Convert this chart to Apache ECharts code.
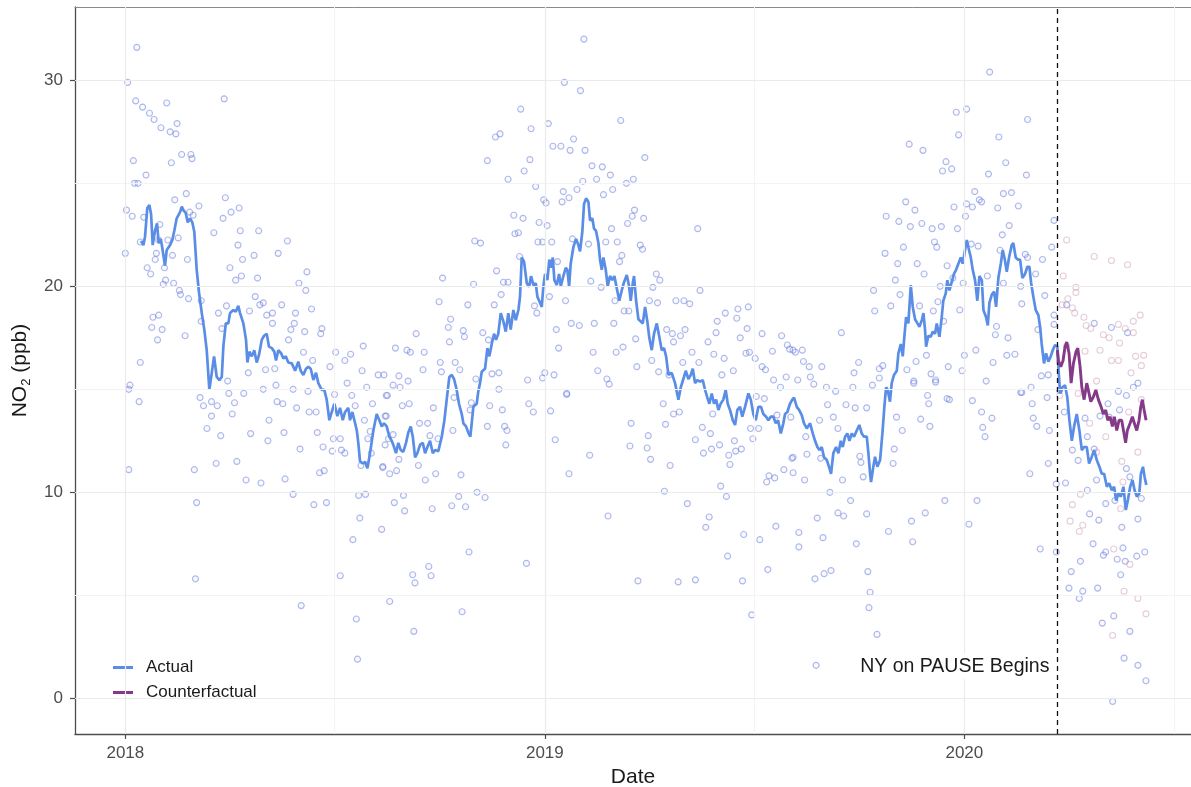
<!DOCTYPE html>
<html><head><meta charset="utf-8">
<script src="https://cdn.jsdelivr.net/npm/echarts@6/dist/echarts.min.js"></script>
<style>html,body{margin:0;padding:0;background:#fff}#c{width:1191px;height:787px}</style>
</head><body><div id="c"></div>
<script>
// ---------- DATA ----------
const BASE_DATE = '2018-01-01';           // day 0 of all day offsets below
const yearTicks = ['2018-01-01', '2019-01-01', '2020-01-01'];
const minorXDates = ['2018-07-02', '2019-07-02', '2020-07-02'];
const yTicks = [0, 10, 20, 30];
const minorYValues = [5, 15, 25];
const pauseDate = '2020-03-22';
const pauseLabel = 'NY on PAUSE Begins';
const seriesNames = ['Actual', 'Counterfactual'];

// Actual rolling mean (days since 2018-01-01, ppb)
const actualDay = [13.7,15.7,17.1,19.1,20.9,22.4,23.8,25.8,27.6,29.0,30.8,32.2,34.5,36.0,38.9,40.9,42.6,44.7,47.6,49.1,50.5,52.6,54.3,56.3,58.3,60.0,62.1,64.1,66.5,68.7,70.8,73.1,75.2,77.2,79.5,81.8,83.9,85.3,87.4,89.6,91.1,94.0,96.1,98.3,99.8,101.3,102.7,105.0,106.2,107.9,110.0,112.2,114.3,116.3,118.7,120.7,123.0,125.0,127.4,129.6,131.1,133.1,135.5,137.5,139.6,141.8,144.8,147.7,150.5,152.6,154.9,157.2,159.2,161.3,163.6,165.9,167.9,170.9,173.1,175.2,177.5,179.6,181.9,184.5,186.8,189.2,191.2,194.0,195.5,197.5,199.9,201.4,202.7,204.2,206.6,208.6,210.6,212.9,215.8,218.7,221.0,223.1,225.1,227.4,229.7,231.8,233.8,235.5,237.5,239.6,241.9,244.2,246.2,248.3,250.1,252.1,254.1,256.4,258.8,260.8,262.8,265.1,267.5,269.5,272.3,275.3,277.6,279.6,281.9,284.0,286.0,288.3,290.3,292.7,294.1,296.4,298.4,300.2,302.8,305.7,307.1,308.6,310.1,313.0,315.0,316.7,318.8,320.8,322.5,324.5,326.6,328.9,331.0,333.2,335.3,337.6,339.7,342.0,343.4,344.9,346.9,349.3,351.3,353.0,355.0,357.1,358.5,360.8,362.3,363.7,365.2,367.2,368.9,370.4,371.9,373.3,375.4,377.4,378.9,381.1,383.2,384.6,386.1,387.5,389.8,392.2,394.2,395.6,397.6,399.1,400.9,402.9,404.3,406.3,407.8,409.5,411.6,413.0,414.5,415.9,418.0,419.7,421.7,423.7,425.5,427.6,429.8,431.9,433.9,436.3,438.3,439.7,441.5,442.6,444.4,446.4,448.3,450.2,452.2,454.2,455.9,458.0,460.0,462.4,464.4,466.7,468.7,470.5,472.5,475.4,478.3,481.2,483.3,485.5,487.6,489.9,492.0,493.7,495.7,497.7,500.0,502.4,504.4,506.4,508.1,510.2,512.2,514.0,516.0,518.0,520.3,522.4,524.1,526.1,528.5,530.5,532.5,534.8,536.8,539.2,542.1,544.2,546.4,548.5,550.8,553.1,555.1,557.5,559.5,561.6,563.8,565.9,567.9,570.3,572.5,574.0,576.0,578.3,580.3,581.8,584.2,586.2,588.5,590.5,592.9,595.8,598.1,600.1,602.1,603.9,605.9,607.9,610.3,612.6,614.0,616.0,618.4,620.4,622.5,624.2,626.2,628.2,630.0,632.0,634.0,636.4,638.6,640.7,642.7,645.1,646.5,648.0,648.8,650.8,652.3,654.3,656.7,658.7,660.4,661.9,663.3,665.3,666.8,668.8,671.2,672.6,674.7,676.4,677.8,679.3,681.3,683.4,685.1,687.1,689.2,690.9,693.0,694.4,695.8,696.7,698.7,700.8,702.5,704.5,706.0,708.3,710.3,711.7,713.8,715.2,717.0,719.0,721.0,722.8,724.8,726.9,728.6,730.6,732.1,733.5,735.6,737.3,739.3,741.3,743.1,745.2,746.6,748.9,750.4,751.8,753.9,755.9,757.6,759.6,761.7,763.4,765.2,766.9,768.9,771.2,772.6,774.7,776.5,778.5,780.5,782.8,784.8,786.6,788.0,790.0,792.1,794.4,795.9,797.3,799.3,801.1,803.1,805.2,806.9,808.9,810.9,811.8,813.3,815.3,817.6,819.6,821.4,823.5,825.5,827.8,830.1,832.2,834.2,836.5,838.5,840.9,842.9,845.2,847.5,849.6,851.6,854.0,856.0,858.3,860.3,862.1,864.1,866.2,868.4,870.5,872.3,874.3,876.3,878.1,880.1,882.2,883.6,885.4,886.8,888.3];
const actualNO2 = [22.2,22.0,22.4,23.8,23.95,23.5,22.0,22.7,23.05,22.1,22.3,21.85,21.0,21.76,22.0,22.25,22.7,23.3,23.6,23.87,23.7,23.55,23.1,23.3,23.1,22.65,20.8,19.7,18.7,17.9,16.9,14.97,15.8,16.6,15.6,15.45,15.6,17.1,18.2,18.2,18.7,18.85,18.77,19.05,18.7,18.77,18.2,17.4,16.3,16.83,16.6,16.9,16.3,16.67,17.4,17.6,17.7,17.07,17.0,16.83,16.4,16.9,16.75,16.5,16.6,16.3,16.26,15.9,16.34,15.9,15.7,16.0,16.1,16.0,15.45,15.8,15.3,14.97,14.97,14.5,13.5,13.9,14.3,13.7,14.1,13.5,13.9,14.1,13.5,13.9,13.35,13.0,12.4,11.5,11.4,11.48,11.17,11.9,13.0,13.8,13.5,13.2,13.35,13.2,12.7,12.5,12.2,11.9,12.4,12.05,11.97,12.4,12.9,13.2,12.7,11.7,11.9,12.3,12.4,11.9,12.2,12.5,11.9,12.05,12.0,12.7,13.5,14.5,15.6,15.7,15.5,14.97,14.3,13.8,13.35,13.2,12.9,12.7,14.15,14.3,14.9,15.3,15.85,16.0,17.0,16.6,17.2,17.7,17.4,17.7,18.7,18.3,17.8,18.7,17.9,18.85,18.36,18.85,19.5,21.4,21.2,20.15,19.98,20.5,20.06,20.15,19.5,19.2,19.0,20.0,20.6,20.3,21.3,20.9,21.4,20.3,20.06,20.6,20.0,20.5,20.9,20.8,20.0,21.1,21.9,22.3,22.0,21.7,22.65,24.0,24.27,24.1,23.2,23.3,22.8,22.7,22.1,21.3,20.8,21.4,20.8,20.0,20.5,20.3,20.5,19.9,19.3,19.8,20.2,20.55,20.0,19.3,20.15,20.5,19.3,18.4,18.3,18.2,19.0,18.28,17.5,16.9,17.7,18.2,17.6,16.9,17.0,16.6,15.7,15.8,15.3,14.5,15.1,15.5,15.9,15.5,15.7,16.0,15.3,15.45,15.37,15.45,14.97,14.6,14.3,14.8,14.3,14.5,14.0,14.3,14.5,14.97,14.3,14.0,13.5,13.27,14.0,14.15,13.67,14.15,14.8,14.5,13.8,13.5,14.15,14.15,13.8,13.67,13.5,13.67,13.67,13.35,13.5,12.86,13.35,13.8,13.9,14.3,14.5,14.6,14.15,14.0,13.75,13.35,13.1,13.35,12.86,12.5,12.2,12.05,12.2,11.7,11.57,11.17,10.9,11.9,12.2,11.9,12.5,12.2,12.7,12.86,12.5,12.86,12.7,13.0,13.27,12.86,12.7,12.7,11.9,10.9,10.5,11.24,11.73,11.24,11.57,12.86,14.15,15.1,14.97,14.4,15.3,15.7,15.9,16.75,17.2,16.6,17.55,18.5,18.2,20.06,19.0,18.4,18.2,18.04,18.36,18.7,17.88,17.07,17.6,17.55,17.8,17.7,18.2,17.55,18.5,19.3,19.66,20.3,19.8,20.2,20.6,20.8,21.1,21.4,21.1,21.76,22.25,21.9,21.4,20.8,20.3,19.3,20.5,20.3,18.85,18.5,18.1,19.2,19.6,19.74,19.0,20.4,21.1,21.76,21.3,20.7,21.4,22.0,22.1,21.4,21.3,21.3,20.4,20.6,20.95,20.95,20.2,19.5,18.85,18.6,18.04,17.2,16.26,16.75,16.34,16.6,16.9,17.15,17.07,16.1,14.8,15.1,15.2,14.6,13.5,12.5,13.2,13.8,13.0,12.05,12.2,12.2,11.4,11.73,12.05,11.57,11.24,10.9,10.9,10.27,10.44,10.1,10.27,9.6,9.95,9.79,10.27,9.14,9.63,10.27,10.6,10.1,9.79,9.95,10.9,11.24,10.76,10.35];

// Counterfactual rolling mean
const cfDay = [811.0,811.8,813.9,815.9,817.6,819.1,821.1,822.9,824.9,827.2,828.7,830.7,832.2,834.2,836.5,838.5,840.0,842.3,844.4,846.6,849.0,851.0,853.0,854.8,856.8,858.8,860.5,862.6,864.6,866.9,868.9,870.3,871.8,874.2,876.2,877.9,880.0,882.0,883.5,884.9,886.4,888.1];
const cfNO2 = [16.9,16.4,16.1,16.4,17.07,17.3,16.75,15.3,16.26,16.83,17.0,16.1,15.1,14.5,15.3,14.8,14.4,14.64,14.97,14.5,14.15,13.8,14.0,13.5,13.67,13.2,13.67,13.0,13.5,13.5,12.86,12.4,13.0,13.35,13.67,13.35,13.0,13.5,14.15,14.5,14.0,13.5];

// Daily observations [day, ppb]
const obsPoints = [[10,31.6],[2,29.9],[9,29.0],[15,28.7],[36,28.9],[21,28.4],[25,28.1],[31,27.7],[39,27.5],[44,27.4],[45,27.9],[7,26.1],[40,26.0],[49,26.4],[57,26.4],[58,26.2],[86,29.1],[8,25.0],[11,25.0],[18,25.4],[43,24.2],[53,24.5],[64,23.9],[87,24.3],[1,23.7],[6,23.4],[16,23.35],[30,23.0],[56,23.6],[59,23.45],[92,23.6],[99,23.8],[85,23.3],[77,22.6],[100,22.7],[116,22.7],[141,22.2],[0,21.6],[13,22.15],[29,22.25],[37,22.25],[46,22.35],[27,21.6],[41,21.5],[54,21.3],[98,22.0],[102,21.3],[112,21.5],[133,21.6],[19,20.9],[22,20.6],[26,21.3],[34,20.9],[35,20.3],[33,20.1],[42,20.15],[47,19.8],[48,19.6],[55,19.4],[91,20.9],[96,20.3],[101,20.5],[115,20.4],[151,20.15],[158,20.7],[157,19.8],[113,19.5],[120,19.2],[117,19.1],[136,19.1],[148,18.7],[162,18.9],[88,19.05],[108,18.8],[81,18.7],[66,19.3],[66,18.3],[24,18.5],[29,18.6],[23,18.0],[32,17.9],[28,17.4],[52,17.6],[84,17.95],[128,18.7],[123,18.6],[128,18.2],[147,18.2],[144,17.9],[156,17.8],[171,17.95],[170,17.7],[142,17.4],[155,16.8],[183,16.8],[196,16.7],[207,17.1],[235,17.0],[191,16.4],[178,16.1],[206,15.9],[163,16.4],[122,15.95],[130,16.0],[107,15.8],[89,15.4],[13,16.3],[4,15.2],[3,15.0],[220,15.7],[210,15.1],
[12,14.4],[65,14.6],[68,14.2],[75,14.4],[80,14.2],[75,13.7],[71,13.1],[83,12.75],[90,14.8],[93,13.8],[95,14.35],[103,14.8],[109,12.85],[125,13.5],[124,12.5],[120,15.0],[131,15.2],[132,14.4],[137,14.3],[138,12.9],[146,15.0],[149,14.1],[152,12.1],[159,14.9],[160,13.9],[166,13.9],[167,12.9],[172,12.2],[180,12.0],[181,12.6],[187,12.6],[188,12.05],[191,11.9],[182,14.75],[193,15.3],[197,14.7],[200,14.2],[215,14.3],[227,14.7],[233,15.2],[208,13.5],[211,12.6],[213,12.95],[214,11.9],[227,13.7],[229,12.6],[224,11.25],[230,10.9],[236,11.05],[205,11.3],[3,11.1],[60,11.1],[79,11.4],[97,11.5],[105,10.6],[118,10.45],[139,10.65],[146,9.9],[169,10.95],[173,11.05],[164,9.4],[175,9.5],[203,9.85],[209,9.9],[62,9.5],[204,8.75],[223,8.2],[198,7.7],[61,5.8],[187,5.95],[153,4.5],[230,4.7],[201,3.85],[202,1.9],
[399,32.0],[382,29.9],[396,29.5],[344,28.6],[431,28.05],[353,27.65],[368,27.9],[322,27.25],[326,27.4],[372,26.8],[379,26.8],[387,26.6],[400,26.6],[390,27.15],[315,26.1],[352,26.15],[347,25.6],[333,25.2],[357,24.85],[406,25.85],[415,25.8],[422,25.4],[410,25.2],[398,25.1],[452,26.25],[436,25.0],[442,25.2],[381,24.6],[393,24.7],[386,24.3],[380,24.1],[364,24.2],[366,24.05],[424,24.7],[416,24.45],[443,23.7],[441,23.4],[437,23.05],[451,23.3],[423,22.8],[428,22.15],[338,23.45],[346,23.3],[360,23.1],[367,22.95],[339,22.55],[342,22.6],[304,22.2],[309,22.1],[359,22.15],[363,22.15],[371,22.15],[389,22.3],[403,22.05],[418,22.15],[432,21.5],[430,21.2],[448,22.0],[450,21.8],[498,22.8],[343,21.45],[376,21.2],[276,20.4],[323,20.75],[329,20.2],[333,20.2],[327,19.6],[303,20.1],[321,19.1],[298,19.1],[273,19.25],[283,18.4],[281,18.0],[294,17.85],[295,17.55],[282,17.3],[311,17.75],[316,17.4],[253,17.7],[245,16.9],[248,16.8],[260,16.8],[259,15.95],[274,16.3],[275,15.85],[287,16.3],[291,15.95],[238,15.65],[246,15.4],[239,15.1],[225,15.7],[358,18.7],[356,19.05],[369,19.5],[383,19.3],[388,18.2],[395,18.1],[408,18.2],[425,18.2],[405,20.25],[414,19.95],[426,19.3],[434,18.8],[438,18.8],[456,19.3],[463,19.2],[462,20.6],[465,20.3],[459,19.95],[479,19.3],[486,19.3],[491,19.15],[500,19.8],[375,17.9],[377,17.0],[444,17.45],[427,16.8],[433,17.05],[407,16.8],[471,17.9],[476,17.7],[487,17.9],[477,17.3],[483,17.6],[493,16.8],[522,18.7],[533,18.9],[542,19.0],[515,18.3],[532,18.45],[541,17.95],[554,17.7],[571,17.6],[514,17.75],[535,17.5],[507,17.3],[512,16.7],[521,16.5],[540,16.75],[543,16.8],[548,16.5],[563,16.85],[576,17.15],[578,16.95],[583,16.8],[554,16.1],[557,15.95],[564,15.45],[575,15.6],[570,15.1],[529,15.9],[519,15.7],[499,16.3],[485,16.3],[473,15.7],[464,15.85],[445,16.1],[458,16.4],[411,15.9],[419,15.5],[421,15.25],[373,15.7],[365,15.8],[363,15.55],[350,15.45],[384,14.8],[319,15.75],[325,15.8],[305,15.5],[325,15.0],
[228,14.7],[241,14.2],[247,14.3],[226,13.7],[233,12.8],[226,12.3],[224,11.2],[238,11.6],[242,9.85],[234,9.5],[243,9.1],[255,11.3],[261,10.6],[270,10.9],[267,9.2],[284,9.35],[290,9.8],[296,9.3],[292,10.85],[306,10.0],[313,9.75],[256,13.35],[263,13.35],[268,14.1],[265,12.75],[272,12.6],[285,13.0],[286,14.6],[301,14.35],[300,14.0],[317,14.2],[315,13.2],[328,14.0],[330,13.2],[332,13.0],[331,12.3],[351,14.3],[355,13.9],[370,13.95],[374,12.55],[384,14.75],[386,10.9],[404,11.8],[420,8.85],[349,6.55],[250,6.0],[252,5.6],[264,6.4],[266,5.95],[299,7.1],[293,4.2],[251,3.25],[440,13.35],[439,12.25],[455,12.75],[454,12.15],[457,11.6],[474,11.3],[468,14.3],[470,13.3],[477,13.8],[482,13.9],[469,10.05],[489,9.45],[502,13.15],[509,12.85],[496,12.55],[503,11.9],[510,12.1],[517,12.3],[511,13.8],[530,12.5],[525,11.8],[531,12.0],[536,12.1],[526,11.35],[518,10.3],[523,9.8],[508,8.8],[505,8.3],[538,7.95],[552,7.7],[566,8.35],[524,6.9],[559,6.25],[446,5.7],[481,5.65],[496,5.75],[537,5.7],[545,4.05],[544,13.1],[551,13.1],[546,12.6],[558,10.5],[565,10.7],[560,10.8],[573,11.1],[581,10.95],[580,11.65],[586,7.35],[586,8.05],[549,14.65],[556,14.55],[567,13.75],[579,13.65],
[752,30.4],[723,28.45],[732,28.6],[785,28.1],[725,27.35],[760,27.25],[682,26.9],[694,26.6],[714,26.05],[711,25.6],[719,25.7],[766,26.0],[751,25.45],[784,25.4],[739,24.6],[743,24.2],[745,24.1],[764,24.5],[771,24.55],[679,24.1],[687,23.7],[732,24.0],[737,23.85],[721,23.85],[759,23.8],[777,23.9],[662,23.4],[673,23.15],[683,22.9],[693,23.05],[702,22.8],[710,22.9],[724,22.8],[731,23.4],[769,22.95],[763,22.5],[704,22.15],[706,21.9],[677,21.9],[661,21.6],[672,21.1],[689,21.1],[695,20.6],[715,21.0],[736,22.05],[742,21.95],[750,20.5],[761,21.75],[783,21.55],[785,21.4],[798,21.3],[806,21.9],[808,23.2],[792,20.6],[729,20.15],[720,20.4],[709,20.0],[670,20.3],[674,19.6],[651,19.8],[652,18.8],[666,19.05],[691,19.05],[703,18.8],[707,19.25],[712,18.3],[726,18.85],[764,20.15],[779,20.0],[780,19.15],[800,19.55],[808,18.6],[808,18.15],[794,17.9],[623,17.75],[638,16.3],[634,15.8],[656,16.0],[659,16.15],[680,15.95],[688,16.35],[697,16.65],[686,15.4],[701,15.75],[705,15.45],[716,16.1],[728,15.9],[730,16.65],[740,16.9],[755,16.3],[757,17.65],[758,18.05],[768,17.5],[767,16.65],[774,16.7],[749,15.4],[780,14.85],[788,15.1],[797,15.65],[803,15.7],[618,14.9],[606,16.1],[590,16.35],[595,16.1],[581,16.9],[589,16.9],[596,15.6],[599,15.25],[585,15.45],[610,15.1],[633,15.1],[650,15.2],[656,15.55],[715,14.55],
[611,14.25],[627,14.25],[635,14.1],[645,14.1],[616,13.65],[604,13.5],[620,13.1],[592,12.7],[593,11.85],[581,11.7],[591,10.6],[605,11.65],[613,10.0],[624,10.6],[640,11.45],[642,10.75],[639,11.75],[631,9.6],[620,9.0],[625,8.85],[645,8.95],[602,8.75],[607,7.8],[636,7.5],[664,8.1],[600,5.8],[608,6.05],[614,6.2],[646,6.15],[648,5.15],[647,4.4],[654,3.1],[601,1.6],[669,12.1],[668,11.4],[671,13.65],[676,13.0],[692,13.55],[700,13.2],[698,14.7],[699,14.3],[686,15.3],[705,15.35],[717,14.5],[737,14.45],[745,13.9],[754,13.6],[746,13.15],[748,12.7],[713,9.6],[741,9.6],[696,9.0],[684,8.6],[685,7.6],[734,8.45],[779,14.85],[789,14.3],[790,13.6],[793,13.2],[802,14.6],[804,13.0],[787,10.9],[803,11.4],[796,7.25],[810,10.4],[810,7.1],
[858,18.0],[872,17.75],[881,15.3],[864,14.9],[877,15.1],[819,19.1],[813,14.95],[817,13.9],[824,12.05],[829,11.55],[818,10.45],[843,12.1],[847,8.65],[853,9.45],[856,13.65],[865,14.0],[871,11.15],[881,8.7],[867,8.3],[842,7.5],[851,6.95],[863,6.75],[868,7.3],[870,6.65],[880,6.9],[887,7.1],[831,6.65],[823,6.15],[821,5.35],[833,5.2],[830,4.85],[846,5.35],[866,6.0],[850,3.65],[860,4.0],[874,3.25],[869,1.95],[881,1.6],[888,0.85],[859,-0.15],[839,8.95],[853,7.1],[843,18.2],[835,13.6],[848,13.7],[871,14.7],[855,14.3],[837,12.7],[837,10.1],[845,10.6],[861,9.6],[874,10.75],[884,9.7]];

// Counterfactual daily predictions [day, ppb]
const cfPoints = [[819,22.25],[816,20.5],[843,21.45],[858,21.25],[872,21.05],[820,19.4],[827,19.95],[827,19.7],[815,19.1],[824,18.95],[826,18.7],[834,18.5],[836,18.1],[840,17.95],[851,17.65],[856,17.5],[865,17.25],[864,18.15],[870,17.95],[877,18.3],[883,18.6],[877,17.75],[835,16.85],[848,16.9],[858,16.4],[864,16.4],[879,16.6],[886,16.65],[884,16.15],[875,15.8],[819,17.1],[845,15.4],[824,9.4],[822,8.6],[830,8.1],[833,8.4],[831,9.9],[839,13.35],[845,11.95],[853,12.7],[867,11.5],[866,9.2],[873,13.9],[881,11.95],[884,14.5],[860,7.25],[874,6.5],[869,5.2],[881,4.85],[888,4.1],[859,3.05],[829,14.8],[868,10.5],[813,14.7]];

// ---------- CHART ----------
const DAY_MS = 86400000;
const BASE = Date.parse(BASE_DATE);
const t = d => BASE + d * DAY_MS;
const FONT = '"Liberation Sans", Arial, Helvetica, sans-serif';
const X_MIN = t(-43.8), X_MAX = t(927.2);
const yearT = yearTicks.map(s => Date.parse(s));
const yearLabel = v => String(new Date(v).getUTCFullYear());

const chart = echarts.init(document.getElementById('c'), null, { renderer: 'canvas' });
const option = {
  animation: false,
  backgroundColor: '#ffffff',
  textStyle: { fontFamily: FONT },
  grid: { left: 75, right: 0, top: 7, bottom: 53, outerBoundsMode: 'none', containLabel: false, show: false },
  xAxis: [{
    type: 'value', min: X_MIN, max: X_MAX, position: 'bottom', scale: true,
    axisLine: { onZero: false, lineStyle: { color: '#4d4d4d', width: 1.3 } },
    axisTick: { length: 5, customValues: yearT, lineStyle: { color: '#4d4d4d', width: 1.2 } },
    axisLabel: { fontSize: 17, color: '#4d4d4d', margin: 11, customValues: yearT, formatter: yearLabel },
    splitLine: { show: false },
    name: 'Date', nameLocation: 'middle', nameGap: 33,
    nameTextStyle: { fontSize: 21, color: '#1a1a1a' }
  }, {
    type: 'value', min: X_MIN, max: X_MAX, position: 'top', scale: true,
    axisLine: { show: true, onZero: false, lineStyle: { color: '#8a8a8a', width: 1 } },
    axisTick: { show: false }, axisLabel: { show: false }, splitLine: { show: false }
  }],
  yAxis: {
    type: 'value', min: -1.733, max: 33.56,
    axisLine: { show: true, onZero: false, lineStyle: { color: '#4d4d4d', width: 1.3 } },
    axisTick: { show: true, length: 5, customValues: yTicks, lineStyle: { color: '#4d4d4d', width: 1.2 } },
    axisLabel: { fontSize: 17, color: '#4d4d4d', margin: 12, customValues: yTicks },
    splitLine: { show: false },
    name: 'NO{sub|2} (ppb)', nameLocation: 'middle', nameGap: 40, nameRotate: 90,
    nameTextStyle: { fontSize: 21, color: '#1a1a1a', lineHeight: 26,
      rich: { sub: { fontSize: 13, lineHeight: 13, verticalAlign: 'bottom', color: '#1a1a1a' } } }
  },
  legend: {
    data: seriesNames.map(n => ({ name: n, icon: 'rect' })),
    orient: 'vertical', left: 100, top: 610,
    padding: [48, 10, 15, 13], itemGap: 6, itemWidth: 20, itemHeight: 3,
    backgroundColor: '#ffffff',
    textStyle: { fontSize: 17, lineHeight: 19, color: '#1a1a1a', padding: [0, 0, 0, 8] }
  },
  series: [
    { name: 'grid', type: 'line', data: [], silent: true, z: 1,
      markLine: { silent: true, symbol: ['none', 'none'], label: { show: false },
        data: minorYValues.map(v => ({ yAxis: v, lineStyle: { color: '#f3f3f3', width: 1, type: 'solid' } }))
          .concat(minorXDates.map(d => ({ xAxis: Date.parse(d), lineStyle: { color: '#f3f3f3', width: 1, type: 'solid' } })))
          .concat(yTicks.map(v => ({ yAxis: v, lineStyle: { color: '#ebebeb', width: 1.2, type: 'solid' } })))
          .concat(yearT.map(v => ({ xAxis: v, lineStyle: { color: '#ebebeb', width: 1.2, type: 'solid' } }))) } },
    { name: 'obs', type: 'scatter', data: obsPoints.map(p => [t(p[0]), p[1]]), symbol: 'circle', symbolSize: 6, z: 2,
      itemStyle: { color: 'rgba(140,155,230,0.06)', borderColor: 'rgba(105,125,220,0.68)', borderWidth: 1.15 } },
    { name: 'cfObs', type: 'scatter', data: cfPoints.map(p => [t(p[0]), p[1]]), symbol: 'circle', symbolSize: 6, z: 2,
      itemStyle: { color: 'rgba(0,0,0,0)', borderColor: 'rgba(200,150,178,0.6)', borderWidth: 1.1 } },
    { name: 'pause', type: 'line', data: [], silent: true, z: 3,
      markLine: { silent: true, symbol: ['none', 'none'], label: { show: false },
        lineStyle: { color: '#111111', width: 1.3, type: [5, 4] },
        data: [{ xAxis: Date.parse(pauseDate) }] },
      markPoint: { silent: true, symbol: 'circle', symbolSize: 0,
        data: [{ coord: [Date.parse(pauseDate), 1.55], value: pauseLabel }],
        label: { show: true, position: 'left', distance: 5, formatter: pauseLabel, fontSize: 19.5, color: '#1a1a1a',
          backgroundColor: '#ffffff', padding: [3, 3, 3, 3] } } },
    { name: seriesNames[0], type: 'line', data: actualDay.map((d, i) => [t(d), actualNO2[i]]), showSymbol: false,
      symbol: 'circle', symbolSize: 5, z: 4,
      lineStyle: { color: '#5a8de6', width: 2.7 }, itemStyle: { color: '#5a8de6' } },
    { name: seriesNames[1], type: 'line', data: cfDay.map((d, i) => [t(d), cfNO2[i]]), showSymbol: false,
      symbol: 'circle', symbolSize: 5, z: 5,
      lineStyle: { color: '#843a88', width: 2.9 }, itemStyle: { color: '#843a88' } }
  ]
};
chart.setOption(option);
</script>
</body></html>
